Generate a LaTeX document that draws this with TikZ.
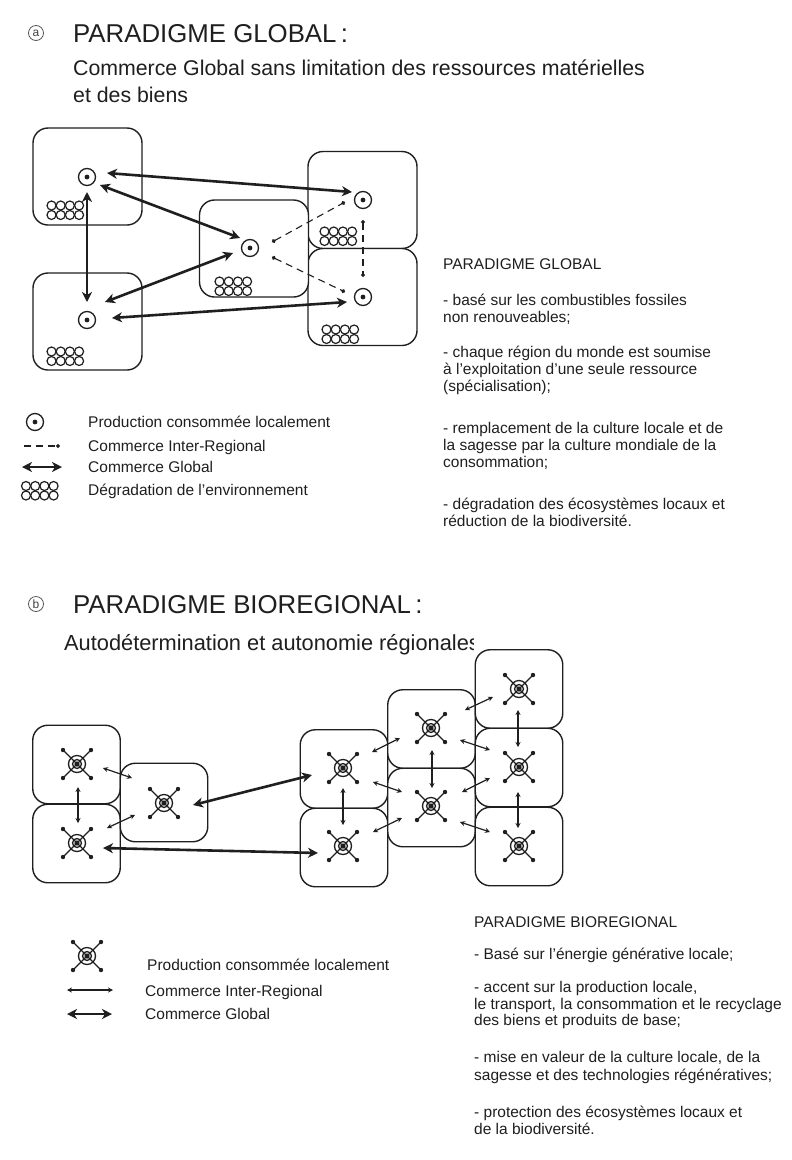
\documentclass[tikz,border=0pt]{standalone}
\usepackage{fontspec}
\setmainfont{Liberation Sans}
\usetikzlibrary{arrows.meta}
\definecolor{ink}{gray}{0.12}
\begin{document}
\begin{tikzpicture}[x=1pt,y=-1pt, color=ink,
  region/.style={draw=ink, line width=1.4pt, rounded corners=15pt, fill=white, minimum width=109pt, minimum height=97pt, inner sep=0pt},
  regionb/.style={region, minimum width=87.5pt, minimum height=78.5pt},
  prod/.style={circle, draw=ink, line width=1.3pt, minimum size=17pt, inner sep=0pt, path picture={\fill[ink] (path picture bounding box.center) circle (2.4pt);}},
  hub/.style={inner sep=0pt, minimum size=0pt},
  glob/.style={line width=2.6pt, {Stealth[length=10pt,width=10pt,inset=3pt]}-{Stealth[length=10pt,width=10pt,inset=3pt]}},
  inter/.style={line width=1.1pt, dash pattern=on 7pt off 5pt, {Circle[length=4pt]}-{Circle[length=4pt]}},
  thinarr/.style={line width=1.2pt, {Stealth[length=5pt,width=5pt]}-{Stealth[length=5pt,width=5pt]}},
  titletxt/.style={font=\fontsize{25.8}{30}\selectfont, anchor=base west, inner sep=0pt, text=ink},
  subtxt/.style={font=\fontsize{21.3}{25}\selectfont, anchor=base west, inner sep=0pt, text=ink},
  body/.style={font=\fontsize{15.5}{17.5}\selectfont, anchor=base west, inner sep=0pt, text=ink},
  lettermark/.style={circle, draw=ink!75, line width=0.8pt, inner sep=0pt, minimum size=15pt, font=\fontsize{12}{12}\selectfont, text=ink!85},
  degr/.pic={\foreach \i in {0,...,3}\foreach \j in {0,1}{\draw[line width=1.2pt] (\i*9.2,\j*9.5) circle (4.5);}},
  bio/.pic={\draw[line width=1.3pt] (0,0) circle (8.5) (0,0) circle (4.5) (-14,-14) -- (14,14) (-14,14) -- (14,-14);
    \foreach \p in {(-14,-14),(14,14),(-14,14),(14,-14)}{\fill \p circle (2.2);}
    \fill (0,0) circle (2.6);}
]
\fill[white] (0,0) rectangle (792,1160);
\useasboundingbox (0,0) rectangle (792,1160);

% ---------- Section a ----------
\node[lettermark] (ma) at (36,33) {a};
\node[titletxt] (ta) at (73,42) {PARADIGME GLOBAL\,:};
\node[subtxt] (sa1) at (73,75) {Commerce Global sans limitation des ressources matérielles};
\node[subtxt] (sa2) at (73,102.5) {et des biens};

\node[region] (RTL) at (87.5,176.5) {};
\node[region] (RBL) at (87.5,321.5) {};
\node[region] (RTR) at (362.5,200) {};
\node[region] (RBR) at (362.5,297) {};
\node[region] (RM) at (254,248.5) {};

\pic at (51.5,205.5) {degr};
\pic at (51.5,351.5) {degr};
\pic at (219.5,281.5) {degr};
\pic at (324.5,231.5) {degr};
\pic at (326.5,329.5) {degr};

\node[prod] (tl) at (87,177) {};
\node[prod] (bl) at (87,320) {};
\node[prod] (md) at (250,248) {};
\node[prod] (tr) at (363,200) {};
\node[prod] (br) at (363,297) {};

\draw[glob] ([shift={(20,-4)}]tl.center) -- ([shift={(-11,-8)}]tr.center);
\draw[glob] ([shift={(13,8)}]tl.center) -- ([shift={(-10,-10)}]md.center);
\draw[glob] ([shift={(0,15)}]tl.center) -- ([shift={(0,-18)}]bl.center);
\draw[glob] ([shift={(18,-18)}]bl.center) -- ([shift={(-17,5)}]md.center);
\draw[glob] ([shift={(25,-2)}]bl.center) -- ([shift={(-16,5)}]br.center);

\draw[inter] ([shift={(22,-6)}]md.center) -- ([shift={(-18,2)}]tr.center);
\draw[inter] ([shift={(22,9)}]md.center) -- ([shift={(-18,-5)}]br.center);
\draw[inter] ([shift={(0,20)}]tr.center) -- ([shift={(0,-20)}]br.center);

% legend a
\node[prod] (lgP) at (35,422) {};
\coordinate (lgI1) at (24,446);
\coordinate (lgI2) at (60,446);
\draw[line width=1.1pt, dash pattern=on 7pt off 5pt, -{Circle[length=4pt]}] (lgI1) -- (lgI2);
\coordinate (lgG1) at (22,467);
\coordinate (lgG2) at (62,467);
\draw[glob] (lgG1) -- (lgG2);
\pic at (26,486) {degr};
\node[body] (la1) at (88,427.5) {Production consommée localement};
\node[body] (la2) at (88,451.5) {Commerce Inter-Regional};
\node[body] (la3) at (88,472.5) {Commerce Global};
\node[body] (la4) at (88,495.5) {Dégradation de l{\char"27}environnement};

% text a
\foreach \yy/\tt [count=\k] in {269.5/{PARADIGME GLOBAL},
  305.5/{- basé sur les combustibles fossiles},
  322.5/{non renouveables;},
  357.5/{- chaque région du monde est soumise},
  374.5/{à l’exploitation d’une seule ressource},
  391.5/{(spécialisation);},
  433.5/{- remplacement de la culture locale et de},
  450.5/{la sagesse par la culture mondiale de la},
  467.5/{consommation;},
  509.5/{- dégradation des écosystèmes locaux et},
  526.5/{réduction de la biodiversité.}}
  {\node[body] (ga\k) at (443,\yy) {\tt};}

% ---------- Section b ----------
\node[lettermark] (mb) at (36,604) {b};
\node[titletxt] (tb) at (73,613) {PARADIGME BIOREGIONAL\,:};
\begin{scope}
  \clip (0,620) rectangle (473.5,670);
  \node[subtxt, font=\fontsize{21.8}{25}\selectfont] (sb) at (64,650) {Autodétermination et autonomie régionales};
\end{scope}

\node[regionb] (BL1) at (76.5,764.5) {};
\node[regionb] (BL2) at (76.5,843.5) {};
\node[regionb] (BL3) at (164,802.5) {};
\node[regionb] (BC1) at (344,769) {};
\node[regionb] (BC2) at (344,847.5) {};
\node[regionb] (BD1) at (431.5,729) {};
\node[regionb] (BD2) at (431.5,807.5) {};
\node[regionb] (BE1) at (519,689) {};
\node[regionb] (BE2) at (519,767.5) {};
\node[regionb] (BE3) at (519,846.5) {};

\foreach \n/\px/\py in {l1/77/764, l2/77/843, l3/164/803, c1/343/768, c2/343/846, d1/431/728, d2/431/806, e1/519/689, e2/519/767, e3/519/846}
  {\node[hub] (\n) at (\px,\py) {}; \pic at (\n) {bio};}

\draw[thinarr] ([shift={(26,4)}]l1.center) -- ([shift={(-32,-25)}]l3.center);
\draw[thinarr] ([shift={(30,-15)}]l2.center) -- ([shift={(-29,12)}]l3.center);
\draw[thinarr] ([shift={(1,23)}]l1.center) -- ([shift={(1,-20)}]l2.center);
\draw[thinarr] ([shift={(29,-16)}]c1.center) -- ([shift={(-31,10)}]d1.center);
\draw[thinarr] ([shift={(30,14)}]c1.center) -- ([shift={(-29,-14)}]d2.center);
\draw[thinarr] ([shift={(30,-14)}]c2.center) -- ([shift={(-29,12)}]d2.center);
\draw[thinarr] ([shift={(0,20)}]c1.center) -- ([shift={(0,-21)}]c2.center);
\draw[thinarr] ([shift={(1,22)}]d1.center) -- ([shift={(1,-18)}]d2.center);
\draw[thinarr] ([shift={(34,-18)}]d1.center) -- ([shift={(-26,8)}]e1.center);
\draw[thinarr] ([shift={(29,12)}]d1.center) -- ([shift={(-29,-17)}]e2.center);
\draw[thinarr] ([shift={(31,-14)}]d2.center) -- ([shift={(-29,11)}]e2.center);
\draw[thinarr] ([shift={(29,16)}]d2.center) -- ([shift={(-29,-14)}]e3.center);
\draw[thinarr] ([shift={(-1,21)}]e1.center) -- ([shift={(-1,-20)}]e2.center);
\draw[thinarr] ([shift={(-1,25)}]e2.center) -- ([shift={(-1,-18)}]e3.center);

\draw[glob] ([shift={(29,2)}]l3.center) -- ([shift={(-31,7)}]c1.center);
\draw[glob] ([shift={(26,5)}]l2.center) -- ([shift={(-25,7)}]c2.center);

% legend b
\node[hub] (lgB) at (87,956) {};
\pic at (lgB) {bio};
\coordinate (lgT1) at (67,990);
\coordinate (lgT2) at (113,990);
\draw[thinarr] (lgT1) -- (lgT2);
\coordinate (lgH1) at (67,1014);
\coordinate (lgH2) at (112,1014);
\draw[glob] (lgH1) -- (lgH2);
\node[body] (lb1) at (147,970) {Production consommée localement};
\node[body] (lb2) at (145,996) {Commerce Inter-Regional};
\node[body] (lb3) at (145,1019.5) {Commerce Global};

% text b
\foreach \yy/\tt [count=\k] in {927.5/{PARADIGME BIOREGIONAL},
  959.5/{- Basé sur l’énergie générative locale;},
  992.5/{- accent sur la production locale,},
  1009.5/{le transport, la consommation et le recyclage},
  1025.5/{des biens et produits de base;},
  1062.5/{- mise en valeur de la culture locale, de la},
  1080/{sagesse et des technologies régénératives;},
  1117/{- protection des écosystèmes locaux et},
  1134/{de la biodiversité.}}
  {\node[body] (gb\k) at (474,\yy) {\tt};}
\end{tikzpicture}
\end{document}
